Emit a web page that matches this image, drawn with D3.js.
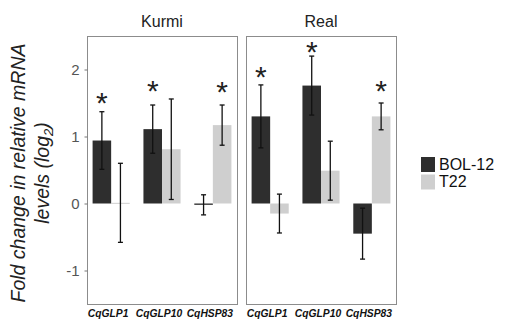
<!DOCTYPE html>
<html>
<head>
<meta charset="utf-8">
<script src="https://cdn.jsdelivr.net/npm/d3@7"></script>
<style>
  body { margin: 0; background: #fff; }
  text { font-family: "Liberation Sans", Arial, sans-serif; }
</style>
</head>
<body>
<div class="mainView"></div>
<script>
// values (log2 fold change)
let genes = ["CqGLP1", "CqGLP10", "CqHSP83"];
let sites = ["Kurmi", "Real"];
let series = ["BOL-12", "T22"];

let kurmiBol = [0.94, 1.11, -0.02];
let kurmiBolErr = [0.43, 0.36, 0.15];
let kurmiT22 = [0.01, 0.81, 1.17];
let kurmiT22Err = [0.59, 0.75, 0.30];

let realBol = [1.30, 1.76, -0.45];
let realBolErr = [0.47, 0.44, 0.38];
let realT22 = [-0.15, 0.49, 1.30];
let realT22Err = [0.29, 0.44, 0.20];

// asterisk heights (y value of the mark), null = not significant
let kurmiBolStar = [1.52, 1.69, null];
let kurmiT22Star = [null, null, 1.68];
let realBolStar = [1.90, 2.28, null];
let realT22Star = [null, null, 1.69];

let yTicks = [-1, 0, 1, 2];

function buildRows(){
    let rows = [];
    let src = {
        "Kurmi": [[kurmiBol, kurmiBolErr, kurmiBolStar], [kurmiT22, kurmiT22Err, kurmiT22Star]],
        "Real": [[realBol, realBolErr, realBolStar], [realT22, realT22Err, realT22Star]]
    };
    sites.forEach(site => {
        series.forEach((s, si) => {
            genes.forEach((g, gi) => {
                rows.push({
                    site: site, series: s, gene: g,
                    value: src[site][si][0][gi],
                    err: src[site][si][1][gi],
                    star: src[site][si][2][gi]
                });
            });
        });
    });
    return rows;
}

function getConfig(){
    let width = 510, height = 325;
    let top = 36, bottom = 304;
    let panelWidth = 150;
    let panelLeft = { "Kurmi": 87, "Real": 246 };
    let svg = d3.select(".mainView").append("svg")
        .attr("width", width).attr("height", height);
    return { width, height, top, bottom, panelWidth, panelLeft, svg };
}

function getScales(config){
    let yScale = d3.scaleLinear().domain([-1.5, 2.5]).range([config.bottom, config.top]);
    let xScale = d3.scaleBand().domain(genes).range([0, config.panelWidth])
        .paddingInner(0.27).paddingOuter(0.11);
    let subScale = d3.scaleBand().domain(series).range([0, xScale.bandwidth()]);
    let cScale = d3.scaleOrdinal().domain(series).range(["#2e2e2e", "#cfcfcf"]);
    return { yScale, xScale, subScale, cScale };
}

function drawPanels(rows, scales, config){
    let { yScale, xScale, subScale, cScale } = scales;
    let { svg, top, bottom, panelWidth, panelLeft } = config;

    sites.forEach(site => {
        let g = svg.append("g").attr("transform", "translate(" + [panelLeft[site], 0] + ")");

        g.append("text")
            .attr("x", panelWidth / 2).attr("y", 27)
            .attr("text-anchor", "middle")
            .style("font-size", "16px").style("fill", "#222")
            .text(site);

        let data = rows.filter(d => d.site == site);

        g.selectAll("rect.bar").data(data).enter().append("rect")
            .attr("class", "bar")
            .attr("x", d => xScale(d.gene) + subScale(d.series))
            .attr("width", subScale.bandwidth())
            .attr("y", d => yScale(Math.max(0, d.value)))
            .attr("height", d => Math.max(1, Math.abs(yScale(d.value) - yScale(0))))
            .attr("fill", d => cScale(d.series));

        let cx = d => xScale(d.gene) + subScale(d.series) + subScale.bandwidth() / 2;
        let eb = g.selectAll("g.err").data(data).enter().append("g")
            .attr("class", "err")
            .attr("stroke", "#111").attr("stroke-width", 1.3);
        eb.append("line")
            .attr("x1", cx).attr("x2", cx)
            .attr("y1", d => yScale(d.value + d.err))
            .attr("y2", d => yScale(d.value - d.err));
        eb.append("line")
            .attr("x1", d => cx(d) - 2.5).attr("x2", d => cx(d) + 2.5)
            .attr("y1", d => yScale(d.value + d.err)).attr("y2", d => yScale(d.value + d.err));
        eb.append("line")
            .attr("x1", d => cx(d) - 2.5).attr("x2", d => cx(d) + 2.5)
            .attr("y1", d => yScale(d.value - d.err)).attr("y2", d => yScale(d.value - d.err));

        g.selectAll("text.star").data(data.filter(d => d.star != null)).enter().append("text")
            .attr("class", "star")
            .attr("x", cx)
            .attr("y", d => yScale(d.star) + 11)
            .attr("text-anchor", "middle")
            .style("font-size", "30px").style("fill", "#222")
            .text("*");

        g.append("rect")
            .attr("x", 0.5).attr("y", top + 0.5)
            .attr("width", panelWidth).attr("height", bottom - top)
            .attr("fill", "none").attr("stroke", "#8c8c8c").attr("stroke-width", 1);

        g.selectAll("text.gene").data(genes).enter().append("text")
            .attr("class", "gene")
            .attr("x", d => xScale(d) + xScale.bandwidth() / 2 - 3)
            .attr("y", 317)
            .attr("text-anchor", "middle")
            .style("font-size", "10.3px").style("font-weight", "bold").style("font-style", "italic")
            .style("fill", "#111")
            .text(d => d);
    });

    let axisY = d3.axisLeft(yScale).tickValues(yTicks).tickFormat(d => d).tickSize(3).tickPadding(5);
    let ax = svg.append("g").attr("transform", "translate(" + [panelLeft["Kurmi"] + 0.5, 0] + ")").call(axisY);
    ax.select(".domain").remove();
    ax.selectAll("line").attr("stroke", "#777");
    ax.selectAll("text").style("font-size", "15px").style("fill", "#555")
        .style("font-family", "'Liberation Sans', Arial, sans-serif");

    let title = svg.append("text")
        .attr("transform", "translate(" + [0, 173] + ") rotate(-90)")
        .attr("text-anchor", "middle")
        .style("font-size", "19.5px").style("font-style", "italic").style("fill", "#222");
    title.append("tspan").attr("x", 0).attr("y", 25).text("Fold change in relative mRNA");
    let l2 = title.append("tspan").attr("x", 0).attr("y", 49).text("levels (log");
    l2.append("tspan").attr("dy", 4).style("font-size", "13px").text("2");
    l2.append("tspan").attr("dy", -4).text(")");
}

function drawLegend(scales, config){
    let { cScale } = scales;
    let lg = config.svg.append("g").attr("transform", "translate(421,157)");
    let item = lg.selectAll("g").data(series).enter().append("g")
        .attr("transform", (d, i) => "translate(0," + i * 17.5 + ")");
    item.append("rect").attr("width", 14).attr("height", 15).attr("fill", d => cScale(d));
    item.append("text").attr("x", 18).attr("y", 12.5)
        .style("font-size", "16px").style("fill", "#111")
        .text(d => d);
}

let rows = buildRows();
let config = getConfig();
let scales = getScales(config);
drawPanels(rows, scales, config);
drawLegend(scales, config);
</script>
</body>
</html>
